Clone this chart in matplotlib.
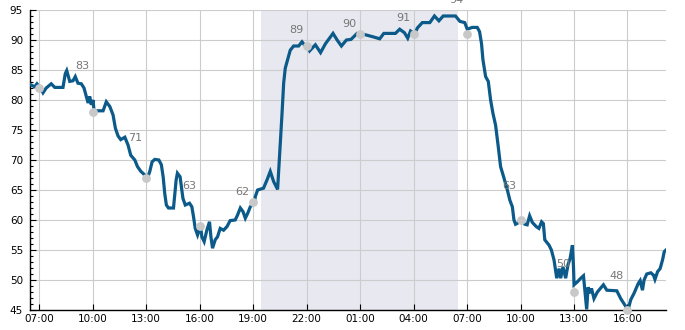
import matplotlib
matplotlib.use("Agg")
import matplotlib.pyplot as plt
import matplotlib.dates as mdates
from matplotlib.ticker import MultipleLocator
import pandas as pd

BASE = pd.Timestamp("2024-01-01")

# hours since midnight of day 1
hours = [6.48, 6.74, 6.87, 7.06, 7.21, 7.39, 7.67, 7.87, 8.33, 8.46, 8.54, 8.71, 8.89, 9.02,
         9.17, 9.36, 9.51, 9.64, 9.74, 9.83, 9.92, 10.02, 10.07, 10.58, 10.76, 10.96, 11.14,
         11.27, 11.42, 11.57, 11.80, 11.98, 12.13, 12.36, 12.51, 12.70, 12.92, 13.07, 13.20,
         13.33, 13.48, 13.71, 13.85, 13.95, 14.04, 14.13, 14.25, 14.53, 14.68, 14.75, 14.90,
         15.06, 15.19, 15.43, 15.56, 15.65, 15.75, 15.88, 15.97, 16.07, 16.12, 16.25, 16.40,
         16.55, 16.63, 16.72, 16.87, 17.00, 17.15, 17.34, 17.53, 17.71, 17.99, 18.12, 18.28,
         18.43, 18.56, 18.69, 18.84, 19.08, 19.12, 19.25, 19.58, 19.78, 19.96, 20.15, 20.37,
         20.48, 20.56, 20.62, 20.71, 20.80, 20.93, 21.08, 21.27, 21.55, 21.74, 21.87, 22.06,
         22.17, 22.49, 22.78, 23.06, 23.48, 23.71, 23.95, 24.23, 24.49, 24.83, 25.11, 25.39,
         25.76, 26.10, 26.33, 26.98, 27.22, 27.49, 27.67, 27.83, 28.07, 28.21, 28.49, 28.91,
         29.17, 29.42, 29.66, 30.35, 30.60, 30.87, 31.01, 31.29, 31.57, 31.70, 31.81, 31.89,
         32.04, 32.19, 32.32, 32.45, 32.60, 32.75, 32.88, 33.07, 33.26, 33.40, 33.54, 33.63,
         33.72, 33.91, 34.06, 34.24, 34.37, 34.51, 34.66, 34.88, 35.03, 35.18, 35.28, 35.36,
         35.60, 35.73, 35.88, 36.03, 36.16, 36.25, 36.38, 36.53, 36.66, 36.78, 36.91, 36.97,
         37.00, 37.19, 37.38, 37.53, 37.66, 37.71, 37.79, 37.90, 37.98, 38.12, 38.31, 38.65,
         38.84, 39.40, 39.62, 39.90, 40.03, 40.18, 40.37, 40.60, 40.71, 40.84, 40.93, 41.08,
         41.31, 41.46, 41.54, 41.69, 41.83, 41.97, 42.06, 42.16]
values = [82.6, 82.2, 82.7, 82.0, 81.2, 82.0, 82.7, 82.1, 82.1, 84.4, 84.9, 83.1, 83.2, 83.9,
          82.8, 82.7, 82.0, 80.6, 79.5, 80.6, 79.2, 80.0, 78.2, 78.2, 79.7, 78.9, 77.5,
          75.3, 74.0, 73.4, 73.8, 72.5, 70.8, 70.0, 68.9, 68.1, 67.5, 67.0, 68.1,
          69.7, 70.1, 70.0, 69.2, 67.2, 64.4, 62.5, 62.0, 62.0, 66.7, 67.8, 67.2,
          63.6, 62.5, 62.8, 62.2, 60.6, 58.6, 57.5, 58.3, 58.5, 57.2, 56.4, 58.3,
          59.7, 57.2, 55.3, 56.7, 57.2, 58.6, 58.3, 58.9, 59.9, 60.0, 60.8, 62.0,
          61.4, 60.3, 61.1, 62.2, 63.0, 63.9, 65.0, 65.3, 66.7, 68.1, 66.4, 65.1,
          70.6, 74.4, 77.8, 82.8, 85.3, 86.7, 88.3, 89.0, 89.0, 89.7, 89.2, 89.0,
          88.2, 89.2, 87.9, 89.4, 91.1, 90.0, 89.0, 90.0, 90.1, 91.1, 91.0, 90.8,
          90.5, 90.2, 91.1, 91.1, 91.8, 91.2, 90.3, 91.5, 91.0, 92.0, 92.9, 92.9,
          94.0, 93.2, 94.0, 94.0, 93.1, 92.9, 91.8, 92.1, 92.1, 91.4, 89.4, 86.7,
          83.9, 83.1, 80.0, 77.8, 75.8, 72.2, 68.9, 67.0, 65.0, 63.3, 62.2, 60.0,
          59.3, 59.6, 60.0, 59.3, 59.2, 60.7, 59.6, 58.9, 58.6, 59.7, 59.4, 56.7,
          55.8, 55.0, 53.3, 50.3, 51.9, 50.3, 52.2, 50.3, 52.5, 53.6, 55.8, 52.2,
          49.2, 49.7, 50.3, 50.7, 46.7, 45.1, 48.8, 47.8, 48.6, 46.9, 48.0, 49.2,
          48.3, 48.2, 46.9, 45.6, 45.0, 46.7, 47.8, 49.4, 49.9, 48.3, 50.0, 51.0,
          51.2, 50.8, 50.1, 51.4, 51.9, 53.4, 54.7, 55.0]

# grey reference dots every 3 hours
dot_hours = [7, 10, 13, 16, 19, 22, 25, 28, 31, 34, 37, 40]
dot_values = [82, 78, 67, 59, 63, 89, 91, 91, 91, 60, 48, 45]

# text labels
label_hours = [9, 12, 15, 18, 21, 24, 27, 30, 33, 36, 39]
label_values = [83, 71, 63, 62, 89, 90, 91, 94, 63, 50, 48]

# shaded night period
shade_start, shade_end = 19.45, 30.47

y_min, y_max = 45, 95


def to_time(h):
    return BASE + pd.to_timedelta(h, unit="h")


t = [to_time(h) for h in hours]
dt = [to_time(h) for h in dot_hours]
lt = [to_time(h) for h in label_hours]

fig = plt.figure(figsize=(6.85, 3.3), dpi=100)
ax = fig.add_axes([30 / 685, 20 / 330, 636 / 685, 300 / 330])

ax.axvspan(to_time(shade_start), to_time(shade_end), color="#e8e9f0", lw=0, zorder=0)
ax.grid(True, color="#cccccc", lw=0.8, zorder=1)
ax.set_axisbelow(True)

ax.plot(t, values, color="#0b5a8a", lw=2.3, solid_joinstyle="miter", zorder=3)
ax.scatter(dt, dot_values, s=40, color="#c8c8c8", zorder=4, clip_on=False, linewidths=0)

for x, v in zip(lt, label_values):
    ax.annotate(str(v), xy=(x, v), xytext=(0, 16), textcoords="offset pixels",
                ha="left", va="center", fontsize=8, color="#777777",
                annotation_clip=False, zorder=5)

ax.set_xlim(t[0], t[-1])
ax.set_ylim(y_min, y_max)
ax.yaxis.set_major_locator(MultipleLocator(5))
ax.yaxis.set_minor_locator(MultipleLocator(1))
ax.xaxis.set_major_locator(mdates.HourLocator(byhour=range(1, 24, 3)))
ax.xaxis.set_major_formatter(mdates.DateFormatter("%H:%M"))

for s in ["top", "right"]:
    ax.spines[s].set_visible(False)
for s in ["left", "bottom"]:
    ax.spines[s].set_color("black")
    ax.spines[s].set_linewidth(1.0)

ax.tick_params(axis="both", which="major", direction="in", length=4, width=0.8,
               labelsize=7.5, colors="black")
ax.tick_params(axis="y", which="minor", direction="in", length=2.5, width=0.8)
ax.tick_params(axis="y", which="major", pad=5)
ax.tick_params(axis="x", which="major", pad=3)

fig.savefig("out.png", dpi=100)
